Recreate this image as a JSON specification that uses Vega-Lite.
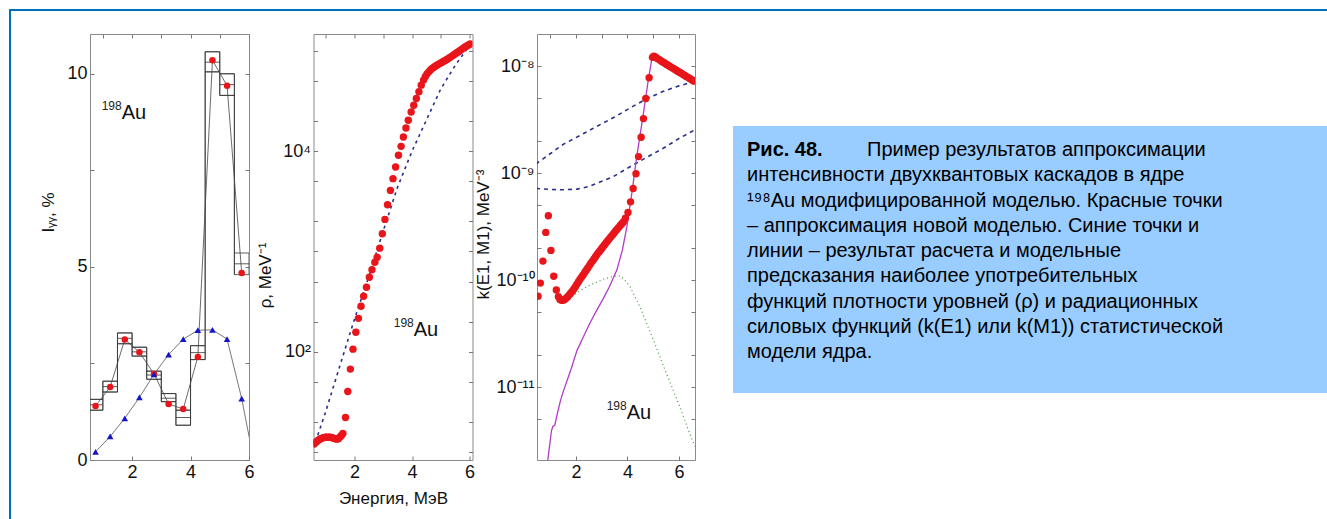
{
  "$schema": "https://vega.github.io/schema/vega-lite/v6.json",
  "padding": {"left": 9, "top": 9, "right": 0, "bottom": 0},
  "background": "white",
  "config": {
    "font": "Liberation Sans",
    "view": {"stroke": null},
    "axis": {"labelFont": "Liberation Sans", "titleFont": "Liberation Sans", "labelFontSize": 18, "titleFontSize": 17, "titleFontWeight": "normal", "labelColor": "#111", "titleColor": "#111", "tickColor": "#777", "tickSize": -4, "domain": false, "grid": false, "labelPadding": 7, "labelOverlap": false, "labelFlush": false},
    "text": {"font": "Liberation Sans"}
  },
  "datasets": {
    "none": [],
    "bins": [
      {"E": 0.5, "E2": 1.0, "lo": 1.29, "hi": 1.57, "v": 1.43},
      {"E": 1.0, "E2": 1.5, "lo": 1.76, "hi": 2.04, "v": 1.90},
      {"E": 1.5, "E2": 2.0, "lo": 3.01, "hi": 3.29, "v": 3.15},
      {"E": 2.0, "E2": 2.5, "lo": 2.69, "hi": 2.92, "v": 2.80},
      {"E": 2.5, "E2": 3.0, "lo": 2.09, "hi": 2.30, "v": 2.20},
      {"E": 3.0, "E2": 3.5, "lo": 1.51, "hi": 1.72, "v": 1.60},
      {"E": 3.5, "E2": 4.0, "lo": 0.90, "hi": 1.29, "v": 1.10},
      {"E": 4.0, "E2": 4.5, "lo": 2.60, "hi": 2.96, "v": 2.78},
      {"E": 4.5, "E2": 5.0, "lo": 10.05, "hi": 10.57, "v": 10.30},
      {"E": 5.0, "E2": 5.5, "lo": 9.44, "hi": 10.00, "v": 9.72},
      {"E": 5.5, "E2": 6.0, "lo": 4.80, "hi": 5.36, "v": 5.08}
    ],
    "p1model": [
      {"E": 0.75, "v": 1.40}, {"E": 1.25, "v": 1.89}, {"E": 1.75, "v": 3.12}, {"E": 2.25, "v": 2.79},
      {"E": 2.75, "v": 2.23}, {"E": 3.25, "v": 1.45}, {"E": 3.75, "v": 1.32}, {"E": 4.25, "v": 2.67},
      {"E": 4.75, "v": 10.35}, {"E": 5.25, "v": 9.69}, {"E": 5.75, "v": 4.84}
    ],
    "p1calc": [
      {"E": 0.75, "v": 0.21}, {"E": 1.25, "v": 0.61}, {"E": 1.75, "v": 1.08}, {"E": 2.25, "v": 1.62},
      {"E": 2.75, "v": 2.22}, {"E": 3.25, "v": 2.73}, {"E": 3.75, "v": 3.13}, {"E": 4.25, "v": 3.36},
      {"E": 4.75, "v": 3.37}, {"E": 5.25, "v": 3.13}, {"E": 5.75, "v": 1.59}, {"E": 6.25, "v": -0.35}
    ],
    "au1": [{"E": 1.645, "v": 8.83}],
    "p2approx": [
      {"E": 0.60, "rho": 12.0}, {"E": 0.65, "rho": 12.4}, {"E": 0.70, "rho": 12.8}, {"E": 0.75, "rho": 13.1},
      {"E": 0.80, "rho": 13.4}, {"E": 0.85, "rho": 13.6}, {"E": 0.90, "rho": 13.8}, {"E": 0.95, "rho": 13.9},
      {"E": 1.00, "rho": 14.0}, {"E": 1.05, "rho": 14.0}, {"E": 1.10, "rho": 14.0}, {"E": 1.15, "rho": 14.0},
      {"E": 1.20, "rho": 13.9}, {"E": 1.25, "rho": 13.8}, {"E": 1.30, "rho": 13.6}, {"E": 1.35, "rho": 13.5},
      {"E": 1.40, "rho": 13.4}, {"E": 1.45, "rho": 13.6}, {"E": 1.50, "rho": 14.1}, {"E": 1.55, "rho": 14.6},
      {"E": 1.60, "rho": 15.3}, {"E": 1.69, "rho": 22}, {"E": 1.77, "rho": 40}, {"E": 1.86, "rho": 67},
      {"E": 1.95, "rho": 106}, {"E": 2.05, "rho": 156}, {"E": 2.14, "rho": 215}, {"E": 2.23, "rho": 284},
      {"E": 2.32, "rho": 357}, {"E": 2.42, "rho": 440}, {"E": 2.52, "rho": 553}, {"E": 2.61, "rho": 656},
      {"E": 2.71, "rho": 782}, {"E": 2.79, "rho": 877}, {"E": 2.88, "rho": 1080}, {"E": 2.97, "rho": 1500},
      {"E": 3.06, "rho": 2090}, {"E": 3.15, "rho": 2930}, {"E": 3.25, "rho": 4070}, {"E": 3.34, "rho": 5330},
      {"E": 3.43, "rho": 6970}, {"E": 3.53, "rho": 9120}, {"E": 3.62, "rho": 11200}, {"E": 3.70, "rho": 13900},
      {"E": 3.79, "rho": 17100}, {"E": 3.87, "rho": 20400}, {"E": 3.97, "rho": 24700}, {"E": 4.06, "rho": 28800},
      {"E": 4.15, "rho": 33600}, {"E": 4.24, "rho": 39200}, {"E": 4.32, "rho": 45700}, {"E": 4.40, "rho": 51300},
      {"E": 4.46, "rho": 55500}, {"E": 4.52, "rho": 59000}, {"E": 4.58, "rho": 62000}, {"E": 4.64, "rho": 64800},
      {"E": 4.70, "rho": 67000}, {"E": 4.76, "rho": 69000}, {"E": 4.82, "rho": 71000}, {"E": 4.88, "rho": 72800},
      {"E": 4.94, "rho": 74500}, {"E": 5.00, "rho": 76000}, {"E": 5.06, "rho": 77800}, {"E": 5.12, "rho": 79600},
      {"E": 5.18, "rho": 81500}, {"E": 5.24, "rho": 83500}, {"E": 5.30, "rho": 85700}, {"E": 5.36, "rho": 88000},
      {"E": 5.42, "rho": 90500}, {"E": 5.48, "rho": 93000}, {"E": 5.54, "rho": 95500}, {"E": 5.60, "rho": 98000},
      {"E": 5.66, "rho": 101000}, {"E": 5.72, "rho": 104000}, {"E": 5.78, "rho": 107000}, {"E": 5.84, "rho": 110000},
      {"E": 5.90, "rho": 112500}, {"E": 5.96, "rho": 115000}, {"E": 6.02, "rho": 117500}
    ],
    "p2model": [
      {"E": 0.65, "rho": 12.6}, {"E": 1.0, "rho": 25}, {"E": 1.5, "rho": 73}, {"E": 2.0, "rho": 210},
      {"E": 2.5, "rho": 560}, {"E": 3.0, "rho": 1600}, {"E": 3.5, "rho": 4400}, {"E": 4.0, "rho": 10000},
      {"E": 4.5, "rho": 20500}, {"E": 5.0, "rho": 42000}, {"E": 5.5, "rho": 72000}, {"E": 6.1, "rho": 125000}
    ],
    "au2": [{"E": 4.06, "rho": 145}],
    "p3approx": [
      {"E": 0.53, "k": 7.1e-11}, {"E": 0.62, "k": 9.4e-11}, {"E": 0.72, "k": 1.51e-10}, {"E": 0.83, "k": 2.8e-10},
      {"E": 0.93, "k": 4.0e-10}, {"E": 1.03, "k": 1.9e-10}, {"E": 1.14, "k": 1.09e-10}, {"E": 1.24, "k": 8.1e-11},
      {"E": 1.32, "k": 7.0e-11}, {"E": 1.38, "k": 6.6e-11}, {"E": 1.44, "k": 6.5e-11}, {"E": 1.50, "k": 6.5e-11},
      {"E": 1.56, "k": 6.6e-11}, {"E": 1.62, "k": 6.8e-11}, {"E": 1.68, "k": 7.0e-11}, {"E": 1.74, "k": 7.3e-11},
      {"E": 1.80, "k": 7.6e-11}, {"E": 1.86, "k": 7.9e-11}, {"E": 1.92, "k": 8.3e-11}, {"E": 1.98, "k": 8.7e-11},
      {"E": 2.04, "k": 9.2e-11}, {"E": 2.10, "k": 9.7e-11}, {"E": 2.16, "k": 1.02e-10}, {"E": 2.22, "k": 1.07e-10},
      {"E": 2.28, "k": 1.12e-10}, {"E": 2.34, "k": 1.18e-10}, {"E": 2.40, "k": 1.24e-10}, {"E": 2.46, "k": 1.30e-10},
      {"E": 2.52, "k": 1.37e-10}, {"E": 2.58, "k": 1.44e-10}, {"E": 2.64, "k": 1.51e-10}, {"E": 2.70, "k": 1.58e-10},
      {"E": 2.76, "k": 1.66e-10}, {"E": 2.82, "k": 1.74e-10}, {"E": 2.88, "k": 1.82e-10}, {"E": 2.94, "k": 1.90e-10},
      {"E": 3.00, "k": 1.98e-10}, {"E": 3.06, "k": 2.07e-10}, {"E": 3.12, "k": 2.16e-10}, {"E": 3.18, "k": 2.25e-10},
      {"E": 3.24, "k": 2.35e-10}, {"E": 3.30, "k": 2.45e-10}, {"E": 3.36, "k": 2.55e-10}, {"E": 3.42, "k": 2.65e-10},
      {"E": 3.48, "k": 2.76e-10}, {"E": 3.54, "k": 2.88e-10}, {"E": 3.60, "k": 3.0e-10}, {"E": 3.66, "k": 3.12e-10},
      {"E": 3.72, "k": 3.25e-10}, {"E": 3.78, "k": 3.38e-10}, {"E": 3.84, "k": 3.5e-10}, {"E": 3.92, "k": 3.8e-10},
      {"E": 4.02, "k": 4.3e-10}, {"E": 4.12, "k": 5.4e-10}, {"E": 4.22, "k": 7.2e-10}, {"E": 4.33, "k": 9.9e-10},
      {"E": 4.43, "k": 1.43e-9}, {"E": 4.53, "k": 2.17e-9}, {"E": 4.62, "k": 3.24e-9}, {"E": 4.71, "k": 5.0e-9},
      {"E": 4.84, "k": 7.8e-9}, {"E": 4.97, "k": 1.21e-8}, {"E": 5.02, "k": 1.24e-8}, {"E": 5.08, "k": 1.22e-8},
      {"E": 5.14, "k": 1.19e-8}, {"E": 5.20, "k": 1.165e-8}, {"E": 5.26, "k": 1.14e-8}, {"E": 5.32, "k": 1.115e-8},
      {"E": 5.38, "k": 1.09e-8}, {"E": 5.44, "k": 1.07e-8}, {"E": 5.50, "k": 1.045e-8}, {"E": 5.56, "k": 1.025e-8},
      {"E": 5.62, "k": 1.005e-8}, {"E": 5.68, "k": 9.85e-9}, {"E": 5.74, "k": 9.65e-9}, {"E": 5.80, "k": 9.46e-9},
      {"E": 5.86, "k": 9.27e-9}, {"E": 5.92, "k": 9.08e-9}, {"E": 5.98, "k": 8.9e-9}, {"E": 6.04, "k": 8.72e-9},
      {"E": 6.10, "k": 8.54e-9}, {"E": 6.16, "k": 8.37e-9}, {"E": 6.22, "k": 8.2e-9}, {"E": 6.28, "k": 8.03e-9},
      {"E": 6.34, "k": 7.87e-9}, {"E": 6.40, "k": 7.71e-9}, {"E": 6.46, "k": 7.55e-9}, {"E": 6.52, "k": 7.4e-9},
      {"E": 6.58, "k": 7.25e-9}
    ],
    "p3e1": [
      {"E": 0.45, "k": 1.22e-9}, {"E": 1.0, "k": 1.52e-9}, {"E": 1.52, "k": 1.87e-9}, {"E": 2.0, "k": 2.15e-9},
      {"E": 2.81, "k": 2.74e-9}, {"E": 3.5, "k": 3.35e-9}, {"E": 4.1, "k": 4.07e-9}, {"E": 4.7, "k": 4.9e-9},
      {"E": 5.39, "k": 5.83e-9}, {"E": 6.0, "k": 6.55e-9}, {"E": 6.65, "k": 7.25e-9}
    ],
    "p3m1": [
      {"E": 0.45, "k": 7.2e-10}, {"E": 1.0, "k": 7.05e-10}, {"E": 1.5, "k": 7.0e-10}, {"E": 2.04, "k": 7.1e-10},
      {"E": 2.5, "k": 7.5e-10}, {"E": 2.81, "k": 8.05e-10}, {"E": 3.46, "k": 9.33e-10}, {"E": 4.1, "k": 1.15e-9},
      {"E": 4.75, "k": 1.41e-9}, {"E": 5.39, "k": 1.71e-9}, {"E": 6.04, "k": 2.14e-9}, {"E": 6.65, "k": 2.57e-9}
    ],
    "p3green": [
      {"E": 1.30, "k": 6.4e-11}, {"E": 1.52, "k": 6.2e-11}, {"E": 1.80, "k": 6.9e-11}, {"E": 2.17, "k": 8.0e-11},
      {"E": 2.50, "k": 8.9e-11}, {"E": 2.81, "k": 9.6e-11}, {"E": 3.10, "k": 1.03e-10}, {"E": 3.46, "k": 1.09e-10},
      {"E": 3.72, "k": 1.1e-10}, {"E": 3.90, "k": 1.0e-10}, {"E": 4.10, "k": 8.7e-11}, {"E": 4.49, "k": 5.6e-11},
      {"E": 5.01, "k": 2.75e-11}, {"E": 5.52, "k": 1.33e-11}, {"E": 6.04, "k": 6.5e-12}, {"E": 6.43, "k": 3.6e-12},
      {"E": 6.62, "k": 2.8e-12}
    ],
    "p3mag": [
      {"E": 0.85, "k": 1.6e-12}, {"E": 0.95, "k": 2.5e-12}, {"E": 1.05, "k": 3.9e-12}, {"E": 1.10, "k": 4.3e-12},
      {"E": 1.18, "k": 4.4e-12}, {"E": 1.25, "k": 5.3e-12}, {"E": 1.40, "k": 7.5e-12}, {"E": 1.52, "k": 9.3e-12},
      {"E": 1.80, "k": 1.45e-11}, {"E": 2.04, "k": 2.2e-11}, {"E": 2.30, "k": 3.0e-11}, {"E": 2.55, "k": 4.0e-11},
      {"E": 2.80, "k": 5.2e-11}, {"E": 3.07, "k": 6.8e-11}, {"E": 3.30, "k": 8.7e-11}, {"E": 3.59, "k": 1.25e-10},
      {"E": 3.80, "k": 1.9e-10}, {"E": 3.97, "k": 3.1e-10}, {"E": 4.17, "k": 6.5e-10}, {"E": 4.36, "k": 1.43e-9},
      {"E": 4.62, "k": 3.65e-9}, {"E": 4.81, "k": 7.5e-9}, {"E": 4.94, "k": 1.15e-8}, {"E": 4.99, "k": 1.24e-8}
    ],
    "au3": [{"E": 3.97, "k": 5.0e-12}],
    "caption": [
      {"line": 1, "kind": "label", "text": "Рис. 48."},
      {"line": 1, "kind": "lead", "text": "Пример результатов аппроксимации"},
      {"line": 2, "kind": "body", "text": "интенсивности двухквантовых каскадов в ядре"},
      {"line": 3, "kind": "body", "text": "¹⁹⁸Au модифицированной моделью. Красные точки"},
      {"line": 4, "kind": "body", "text": "– аппроксимация новой моделью. Синие точки и"},
      {"line": 5, "kind": "body", "text": "линии – результат расчета и модельные"},
      {"line": 6, "kind": "body", "text": "предсказания наиболее употребительных"},
      {"line": 7, "kind": "body", "text": "функций плотности уровней (ρ) и радиационных"},
      {"line": 8, "kind": "body", "text": "силовых функций (k(E1) или k(M1)) статистической"},
      {"line": 9, "kind": "body", "text": "модели ядра."}
    ]
  },
  "spacing": 0,
  "vconcat": [
    {"width": 1318, "height": 2, "view": {"fill": "#0070C0", "stroke": null}, "data": {"name": "none"}, "mark": "point", "encoding": {}},
    {
      "spacing": 28,
      "hconcat": [
        {"width": 2, "height": 508, "view": {"fill": "#0070C0", "stroke": null}, "data": {"name": "none"}, "mark": "point", "encoding": {}},
        {
          "spacing": 0,
          "vconcat": [
            {"width": 1, "height": 22, "data": {"name": "none"}, "mark": "point", "encoding": {}},
            {
              "spacing": 37,
              "hconcat": [
                {
                  "spacing": 64.5,
                  "bounds": "flush",
                  "hconcat": [
                    {
                      "width": 159, "height": 426,
                      "view": {"stroke": "#8a8a8a", "strokeWidth": 1},
                      "resolve": {"axis": {"x": "independent", "y": "independent"}},
                      "layer": [
                        {"layer": [
                          {"data": {"name": "bins"}, "mark": {"type": "rect", "filled": false, "color": "#333", "strokeWidth": 0.8, "clip": true},
                           "encoding": {
                             "x": {"field": "E", "type": "quantitative", "scale": {"domain": [0.56, 6.0], "nice": false, "zero": false}, "axis": {"values": [2, 4, 6], "title": null, "labelOverlap": false, "labelFlush": false}},
                             "x2": {"field": "E2"},
                             "y": {"field": "lo", "type": "quantitative", "scale": {"domain": [0, 11.03], "nice": false, "zero": false}, "axis": {"values": [0, 2.5, 5, 7.5, 10], "labelExpr": "datum.value % 5 == 0 ? datum.label : ''", "title": "Iᵧᵧ, %", "titlePadding": 9, "titleY": 178}},
                             "y2": {"field": "hi"}
                           }},
                          {"data": {"name": "bins"}, "mark": {"type": "rule", "color": "#333", "strokeWidth": 0.8, "clip": true},
                           "encoding": {"x": {"field": "E", "type": "quantitative"}, "x2": {"field": "E2"}, "y": {"field": "v", "type": "quantitative"}}},
                          {"data": {"name": "bins"}, "mark": {"type": "line", "interpolate": "step-after", "color": "#333", "strokeWidth": 0.8, "clip": true},
                           "encoding": {"x": {"field": "E", "type": "quantitative"}, "y": {"field": "hi", "type": "quantitative"}}},
                          {"data": {"name": "bins"}, "mark": {"type": "line", "interpolate": "step-after", "color": "#333", "strokeWidth": 0.8, "clip": true},
                           "encoding": {"x": {"field": "E", "type": "quantitative"}, "y": {"field": "lo", "type": "quantitative"}}},
                          {"data": {"name": "p1model"}, "mark": {"type": "line", "color": "#444", "strokeWidth": 0.8, "clip": true},
                           "encoding": {"x": {"field": "E", "type": "quantitative"}, "y": {"field": "v", "type": "quantitative"}}},
                          {"data": {"name": "p1calc"}, "mark": {"type": "line", "color": "#555", "strokeWidth": 0.8, "clip": true},
                           "encoding": {"x": {"field": "E", "type": "quantitative"}, "y": {"field": "v", "type": "quantitative"}}},
                          {"data": {"name": "p1model"}, "mark": {"type": "point", "filled": true, "color": "#e8151b", "size": 42, "opacity": 1, "clip": true},
                           "encoding": {"x": {"field": "E", "type": "quantitative"}, "y": {"field": "v", "type": "quantitative"}}},
                          {"data": {"name": "p1calc"}, "transform": [{"filter": "datum.E < 6"}], "mark": {"type": "point", "shape": "triangle-up", "filled": true, "color": "#1515c8", "size": 44, "opacity": 1, "clip": true},
                           "encoding": {"x": {"field": "E", "type": "quantitative"}, "y": {"field": "v", "type": "quantitative"}}},
                          {"data": {"name": "au1"}, "mark": {"type": "text", "text": "198", "align": "right", "baseline": "alphabetic", "fontSize": 12, "dy": -9, "color": "#222"},
                           "encoding": {"x": {"field": "E", "type": "quantitative"}, "y": {"field": "v", "type": "quantitative"}}},
                          {"data": {"name": "au1"}, "mark": {"type": "text", "text": "Au", "align": "left", "baseline": "alphabetic", "fontSize": 20, "color": "#111"},
                           "encoding": {"x": {"field": "E", "type": "quantitative"}, "y": {"field": "v", "type": "quantitative"}}}
                        ]},
                        {"data": {"name": "p1model"}, "mark": {"type": "point", "opacity": 0, "clip": true},
                         "encoding": {
                           "x": {"field": "E", "type": "quantitative", "axis": {"orient": "top", "labels": false, "title": null, "values": [1, 2, 3, 4, 5, 6]}},
                           "y": {"field": "v", "type": "quantitative", "axis": {"orient": "right", "labels": false, "title": null, "values": [0, 2.5, 5, 7.5, 10]}}
                         }}
                      ]
                    },
                    {
                      "width": 159, "height": 426,
                      "view": {"stroke": "#8a8a8a", "strokeWidth": 1},
                      "resolve": {"axis": {"x": "independent", "y": "independent"}},
                      "layer": [
                        {"layer": [
                          {"data": {"name": "p2model"}, "mark": {"type": "line", "color": "#2b2f8a", "strokeWidth": 1.6, "strokeDash": [3, 4], "clip": true},
                           "encoding": {
                             "x": {"field": "E", "type": "quantitative", "scale": {"domain": [0.58, 6.1], "nice": false, "zero": false}, "axis": {"values": [2, 4, 6], "labelOverlap": false, "labelFlush": false, "title": "Энергия, МэВ", "titlePadding": 9}},
                             "y": {"field": "rho", "type": "quantitative", "scale": {"type": "log", "domain": [8.3, 148000], "nice": false}, "axis": {"values": [10, 20, 50, 100, 200, 500, 1000, 2000, 5000, 10000, 20000, 50000, 100000], "labelExpr": "datum.value == 100 ? '10²' : datum.value == 10000 ? '10⁴' : ''", "title": "ρ, MeV⁻¹", "titlePadding": 8, "titleY": 241}}
                           }},
                          {"data": {"name": "p2approx"}, "mark": {"type": "point", "filled": true, "color": "#e8151b", "size": 55, "opacity": 1, "clip": true},
                           "encoding": {"x": {"field": "E", "type": "quantitative"}, "y": {"field": "rho", "type": "quantitative"}}},
                          {"data": {"name": "au2"}, "mark": {"type": "text", "text": "198", "align": "right", "baseline": "alphabetic", "fontSize": 12, "dy": -9, "color": "#222"},
                           "encoding": {"x": {"field": "E", "type": "quantitative"}, "y": {"field": "rho", "type": "quantitative"}}},
                          {"data": {"name": "au2"}, "mark": {"type": "text", "text": "Au", "align": "left", "baseline": "alphabetic", "fontSize": 20, "color": "#111"},
                           "encoding": {"x": {"field": "E", "type": "quantitative"}, "y": {"field": "rho", "type": "quantitative"}}}
                        ]},
                        {"data": {"name": "p2model"}, "mark": {"type": "point", "opacity": 0, "clip": true},
                         "encoding": {
                           "x": {"field": "E", "type": "quantitative", "axis": {"orient": "top", "labels": false, "title": null, "values": [1, 2, 3, 4, 5, 6]}},
                           "y": {"field": "rho", "type": "quantitative", "axis": {"orient": "right", "labels": false, "title": null, "values": [10, 20, 50, 100, 200, 500, 1000, 2000, 5000, 10000, 20000, 50000, 100000]}}
                         }}
                      ]
                    },
                    {
                      "width": 158, "height": 426,
                      "view": {"stroke": "#8a8a8a", "strokeWidth": 1},
                      "resolve": {"axis": {"x": "independent", "y": "independent"}},
                      "layer": [
                        {"layer": [
                          {"data": {"name": "p3e1"}, "mark": {"type": "line", "color": "#2b2f8a", "strokeWidth": 1.6, "strokeDash": [4, 4], "clip": true},
                           "encoding": {
                             "x": {"field": "E", "type": "quantitative", "scale": {"domain": [0.49, 6.62], "nice": false, "zero": false}, "axis": {"values": [2, 4, 6], "labelOverlap": false, "labelFlush": false, "title": null}},
                             "y": {"field": "k", "type": "quantitative", "scale": {"type": "log", "domain": [2.09e-12, 2.0e-8], "nice": false}, "axis": {"values": [2e-12, 5e-12, 1e-11, 2e-11, 5e-11, 1e-10, 2e-10, 5e-10, 1e-9, 2e-9, 5e-9, 1e-8], "labelExpr": "abs(log(datum.value)/LN10 - round(log(datum.value)/LN10)) > 0.05 ? '' : round(log(datum.value)/LN10) == -8 ? '10⁻⁸' : round(log(datum.value)/LN10) == -9 ? '10⁻⁹' : round(log(datum.value)/LN10) == -10 ? '10⁻¹⁰' : '10⁻¹¹'", "title": "k(E1, M1), MeV⁻³", "titlePadding": 3, "titleY": 200}}
                           }},
                          {"data": {"name": "p3m1"}, "mark": {"type": "line", "color": "#2b2f8a", "strokeWidth": 1.6, "strokeDash": [4, 4], "clip": true},
                           "encoding": {"x": {"field": "E", "type": "quantitative"}, "y": {"field": "k", "type": "quantitative"}}},
                          {"data": {"name": "p3green"}, "mark": {"type": "line", "color": "#3c9a3c", "strokeWidth": 1.2, "strokeDash": [1, 3], "clip": true},
                           "encoding": {"x": {"field": "E", "type": "quantitative"}, "y": {"field": "k", "type": "quantitative"}}},
                          {"data": {"name": "p3mag"}, "mark": {"type": "line", "color": "#b03cc8", "strokeWidth": 1.3, "clip": true},
                           "encoding": {"x": {"field": "E", "type": "quantitative"}, "y": {"field": "k", "type": "quantitative"}}},
                          {"data": {"name": "p3approx"}, "mark": {"type": "point", "filled": true, "color": "#e8151b", "size": 55, "opacity": 1, "clip": true},
                           "encoding": {"x": {"field": "E", "type": "quantitative"}, "y": {"field": "k", "type": "quantitative"}}},
                          {"data": {"name": "au3"}, "mark": {"type": "text", "text": "198", "align": "right", "baseline": "alphabetic", "fontSize": 12, "dy": -9, "color": "#222"},
                           "encoding": {"x": {"field": "E", "type": "quantitative"}, "y": {"field": "k", "type": "quantitative"}}},
                          {"data": {"name": "au3"}, "mark": {"type": "text", "text": "Au", "align": "left", "baseline": "alphabetic", "fontSize": 20, "color": "#111"},
                           "encoding": {"x": {"field": "E", "type": "quantitative"}, "y": {"field": "k", "type": "quantitative"}}}
                        ]},
                        {"data": {"name": "p3m1"}, "mark": {"type": "point", "opacity": 0, "clip": true},
                         "encoding": {
                           "x": {"field": "E", "type": "quantitative", "axis": {"orient": "top", "labels": false, "title": null, "values": [1, 2, 3, 4, 5, 6]}},
                           "y": {"field": "k", "type": "quantitative", "axis": {"orient": "right", "labels": false, "title": null, "values": [2e-12, 5e-12, 1e-11, 2e-11, 5e-11, 1e-10, 2e-10, 5e-10, 1e-9, 2e-9, 5e-9, 1e-8]}}
                         }}
                      ]
                    }
                  ]
                },
                {
                  "spacing": 0,
                  "vconcat": [
                    {"width": 1, "height": 92, "data": {"name": "none"}, "mark": "point", "encoding": {}},
                    {
                      "width": 594, "height": 267,
                      "view": {"fill": "#99CCFF", "stroke": null},
                      "data": {"name": "caption"},
                      "encoding": {
                        "y": {"field": "line", "type": "quantitative", "scale": {"domain": [0.05, 10.62], "reverse": true, "nice": false, "zero": false}, "axis": null},
                        "x": {"datum": 0, "type": "quantitative", "scale": {"domain": [0, 1]}, "axis": null},
                        "text": {"field": "text"}
                      },
                      "layer": [
                        {"transform": [{"filter": "datum.kind == 'body'"}], "mark": {"type": "text", "align": "left", "baseline": "middle", "dx": 14, "fontSize": 20, "color": "#000"}},
                        {"transform": [{"filter": "datum.kind == 'label'"}], "mark": {"type": "text", "align": "left", "baseline": "middle", "dx": 14, "fontSize": 20, "fontWeight": "bold", "color": "#000"}},
                        {"transform": [{"filter": "datum.kind == 'lead'"}], "mark": {"type": "text", "align": "left", "baseline": "middle", "dx": 134, "fontSize": 20, "color": "#000"}}
                      ]
                    }
                  ]
                }
              ]
            }
          ]
        }
      ]
    }
  ]
}
